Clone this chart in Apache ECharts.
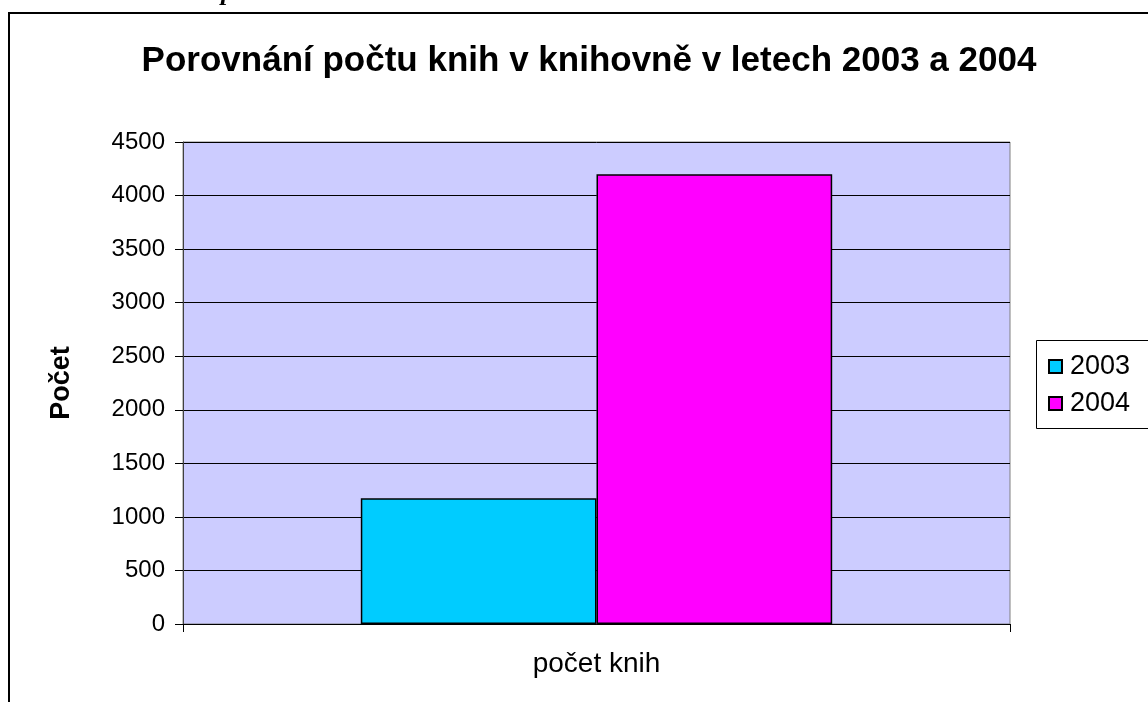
<!DOCTYPE html>
<html><head><meta charset="utf-8">
<script src="https://cdn.jsdelivr.net/npm/echarts@6/dist/echarts.min.js"></script>
<style>html,body{margin:0;padding:0;background:#fff}#c{width:1148px;height:702px}</style>
</head><body><div id="c"></div>
<script>
const categories = ['počet knih'];
const seriesNames = ['2003', '2004'];
const values2003 = [1175];
const values2004 = [4200];
const yTicks = { min: 0, max: 4500, interval: 500 };
const title = 'Porovnání počtu knih v knihovně v letech 2003 a 2004';
const yName = 'Počet';

const chart = echarts.init(document.getElementById('c'), null, { renderer: 'canvas' });
const font = 'Liberation Sans, Arial, sans-serif';
chart.setOption({
  animation: false,
  backgroundColor: '#ffffff',
  title: {
    text: title, left: 584, top: 39, textAlign: 'center',
    textStyle: { fontFamily: font, fontWeight: 'bold', fontSize: 35, color: '#000' }
  },
  grid: {
    left: 183, right: 138, top: 142, bottom: 78,
    show: true, backgroundColor: '#CCCCFF', borderColor: '#808080', borderWidth: 1
  },
  legend: {
    orient: 'vertical', left: 1043, top: 348,
    itemWidth: 13, itemHeight: 13, itemGap: 10,
    icon: 'rect',
    textStyle: { fontFamily: font, fontSize: 27, color: '#000', padding: [0, 0, 0, 3] },
    data: seriesNames
  },
  xAxis: {
    type: 'category', data: categories,
    axisLine: { show: true, lineStyle: { color: '#000', width: 1 } },
    axisTick: { show: true, length: 8, lineStyle: { color: '#000' } },
    axisLabel: { fontFamily: font, fontSize: 28, color: '#000', margin: 26 }
  },
  yAxis: {
    type: 'value', min: yTicks.min, max: yTicks.max, interval: yTicks.interval,
    name: yName, nameLocation: 'middle', nameGap: 108, nameRotate: 90,
    nameTextStyle: { fontFamily: font, fontWeight: 'bold', fontSize: 27, color: '#000' },
    axisLine: { show: true, lineStyle: { color: '#404040', width: 1 } },
    axisTick: { show: true, length: 8, lineStyle: { color: '#000' } },
    axisLabel: { fontFamily: font, fontSize: 24, color: '#000', margin: 18,
      formatter: function (v) { return String(v); } },
    splitLine: { show: true, lineStyle: { color: '#000', width: 1 } }
  },
  series: [
    { name: seriesNames[0], type: 'bar', data: values2003, barGap: '0%', barCategoryGap: '43%',
      itemStyle: { color: '#00CCFF', borderColor: '#000', borderWidth: 1.5 } },
    { name: seriesNames[1], type: 'bar', data: values2004,
      itemStyle: { color: '#FF00FF', borderColor: '#000', borderWidth: 1.5 } }
  ],
  graphic: [
    { type: 'rect', left: 1034, top: 338, shape: { width: 200, height: 88 },
      style: { fill: 'none', stroke: '#000', lineWidth: 1 }, z: -1 },
    { type: 'rect', shape: { x: 9, y: 13, width: 1300, height: 900 },
      style: { fill: 'none', stroke: '#000', lineWidth: 2 } },
    { type: 'text', x: 221, y: -20,
      style: { text: 'p', font: 'italic bold 26px "Liberation Serif", serif', fill: '#000' } }
  ]
});
</script></body></html>
